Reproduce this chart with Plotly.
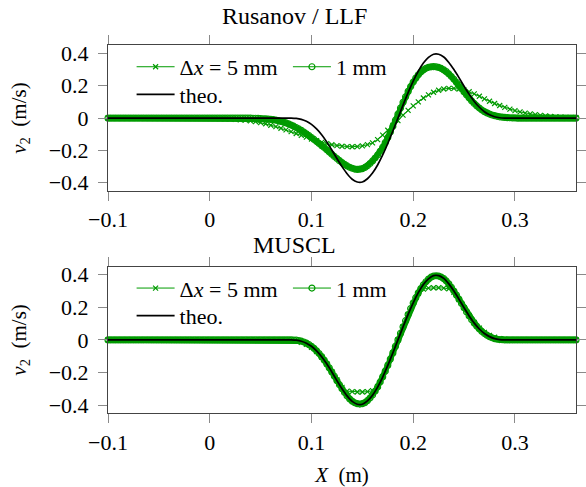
import numpy as np
import plotly.graph_objects as go

# ---------------- data ----------------
x_range = [-0.1, 0.36]
y_range = [-0.45, 0.45]
x_tick_vals = [-0.1, 0.0, 0.1, 0.2, 0.3]
x_tick_text = ["\u22120.1", "0", "0.1", "0.2", "0.3"]
y_tick_vals = [-0.4, -0.2, 0.0, 0.2, 0.4]
y_tick_text = ["\u22120.4", "\u22120.2", "0", "0.2", "0.4"]

# sampling grids (5 mm and fine grid for the "1 mm" runs)
x_coarse = np.round(np.arange(-0.1, 0.36 + 1e-9, 0.005), 4)
x_fine = np.round(np.arange(-0.1, 0.36 + 1e-9, 0.0025), 4)

# theoretical profile, 5 mm grid, non-zero part starting at x = 0.08
theo_start = 0.08
theo_vals = [0.0, -0.002, -0.008, -0.020, -0.039, -0.067, -0.103, -0.147, -0.197, -0.250,
             -0.300, -0.344, -0.378, -0.395, -0.395, -0.375, -0.340, -0.290, -0.228, -0.157,
             -0.080, 0.0, 0.080, 0.157, 0.228, 0.290, 0.340, 0.375, 0.395, 0.395,
             0.378, 0.344, 0.300, 0.250, 0.197, 0.147, 0.103, 0.067, 0.039, 0.020,
             0.008, 0.002, 0.0]

# Rusanov / LLF, dx = 5 mm, starting at x = 0.0
rus5_start = 0.0
rus5_vals = [-0.001, -0.002, -0.003, -0.004, -0.005, -0.007, -0.010, -0.013, -0.017, -0.022,
             -0.028, -0.035, -0.044, -0.053, -0.063, -0.073, -0.084, -0.095, -0.107, -0.118,
             -0.129, -0.140, -0.150, -0.158, -0.165, -0.170, -0.174, -0.176, -0.177, -0.176,
             -0.172, -0.164, -0.153, -0.133, -0.105, -0.075, -0.045, -0.016, 0.018, 0.048,
             0.076, 0.100, 0.124, 0.144, 0.160, 0.172, 0.180, 0.184, 0.184, 0.180,
             0.173, 0.163, 0.150, 0.135, 0.119, 0.104, 0.090, 0.078, 0.066, 0.055,
             0.046, 0.038, 0.031, 0.026, 0.021, 0.017, 0.013, 0.010, 0.008, 0.006,
             0.004, 0.003, 0.002]

# Rusanov / LLF, dx = 1 mm, fine grid starting at x = 0.04
rus1_start = 0.04
rus1_vals = [0.000, -0.001, -0.001, -0.002, -0.003, -0.004, -0.005, -0.006,
             -0.008, -0.010, -0.013, -0.016, -0.020, -0.025, -0.030, -0.036,
             -0.043, -0.050, -0.058, -0.067, -0.076, -0.086, -0.097, -0.108,
             -0.120, -0.132, -0.145, -0.157, -0.170, -0.182, -0.196, -0.210,
             -0.224, -0.237, -0.250, -0.263, -0.275, -0.286, -0.296, -0.304,
             -0.310, -0.315, -0.317, -0.316, -0.313, -0.305, -0.295, -0.281,
             -0.265, -0.247, -0.228, -0.205, -0.180, -0.151, -0.120, -0.086,
             -0.050, -0.013, 0.025, 0.062, 0.098, 0.132, 0.165, 0.195,
             0.223, 0.247, 0.268, 0.285, 0.298, 0.308, 0.314, 0.317,
             0.318, 0.317, 0.313, 0.307, 0.298, 0.287, 0.273, 0.257,
             0.240, 0.221, 0.202, 0.182, 0.162, 0.143, 0.124, 0.106,
             0.090, 0.075, 0.062, 0.050, 0.040, 0.032, 0.025, 0.019,
             0.015, 0.011, 0.008, 0.006, 0.004, 0.003, 0.002, 0.001,
             0.001, 0.000]

# MUSCL, dx = 5 mm, starting at x = 0.07
mus5_start = 0.07
mus5_vals = [0.000, -0.001, -0.004, -0.008, -0.015, -0.027, -0.045, -0.071, -0.106, -0.148,
             -0.196, -0.246, -0.292, -0.315, -0.318, -0.320, -0.320, -0.318, -0.312, -0.286,
             -0.226, -0.156, -0.080, 0.000, 0.080, 0.156, 0.226, 0.285, 0.312, 0.318,
             0.320, 0.320, 0.318, 0.314, 0.292, 0.248, 0.198, 0.150, 0.107, 0.072,
             0.046, 0.028, 0.016, 0.008, 0.004, 0.002, 0.001]

# MUSCL, dx = 1 mm, fine grid starting at x = 0.08
mus1_start = 0.08
mus1_vals = [0.000, -0.001, -0.002, -0.004, -0.008, -0.013, -0.020, -0.029,
             -0.039, -0.052, -0.067, -0.084, -0.103, -0.124, -0.147, -0.172,
             -0.197, -0.223, -0.250, -0.275, -0.300, -0.323, -0.344, -0.362,
             -0.376, -0.386, -0.392, -0.394, -0.392, -0.385, -0.373, -0.357,
             -0.338, -0.315, -0.289, -0.259, -0.227, -0.192, -0.156, -0.118,
             -0.080, -0.040, 0.000, 0.040, 0.080, 0.118, 0.156, 0.192,
             0.227, 0.259, 0.289, 0.315, 0.338, 0.357, 0.373, 0.385,
             0.392, 0.394, 0.392, 0.386, 0.376, 0.362, 0.344, 0.323,
             0.300, 0.275, 0.250, 0.223, 0.197, 0.172, 0.147, 0.124,
             0.103, 0.084, 0.067, 0.052, 0.039, 0.029, 0.020, 0.013,
             0.008, 0.004, 0.002, 0.001, 0.000]

legend_labels = ["\u0394<i>x</i> = 5 mm", "1 mm", "theo."]
panel_titles = ["Rusanov / LLF", "MUSCL"]


def on_grid(grid, start, vals):
    """Place a block of read values on the sampling grid (zero elsewhere)."""
    y = np.zeros(len(grid))
    step = grid[1] - grid[0]
    i0 = int(round((start - grid[0]) / step))
    n = min(len(vals), len(grid) - i0)
    y[i0:i0 + n] = vals[:n]
    return y


# ---------------- styling ----------------
GREEN = "rgb(0,155,0)"
FONT = "Liberation Serif, Times New Roman, serif"
FS = 22
W, H = 586, 487
L, R = 108, 2
pw = W - L - R

fig = go.Figure()

# legend rows (pixel centres) and columns (pixel x of item origin)
col1 = (132 - L) / pw
col2 = (291 - L) / pw
panels = [
    dict(x="x", y="y", rows=(64, 92), legs=("legend", "legend2", "legend3"),
         c5=on_grid(x_coarse, rus5_start, rus5_vals),
         c1=on_grid(x_fine, rus1_start, rus1_vals)),
    dict(x="x2", y="y2", rows=(289, 317), legs=("legend4", "legend5", "legend6"),
         c5=on_grid(x_coarse, mus5_start, mus5_vals),
         c1=on_grid(x_fine, mus1_start, mus1_vals)),
]
theo_y = on_grid(x_coarse, theo_start, theo_vals)

for p in panels:
    l5, l1, lt = p["legs"]
    fig.add_trace(go.Scatter(
        x=x_coarse, y=p["c5"], mode="lines+markers", name=legend_labels[0],
        xaxis=p["x"], yaxis=p["y"], legend=l5, cliponaxis=False,
        line=dict(color=GREEN, width=1),
        marker=dict(symbol="x-thin", size=5, line=dict(color=GREEN, width=1.2), color=GREEN)))
    # dense 1 mm markers merge into a solid band: band body
    fig.add_trace(go.Scatter(
        x=x_fine, y=p["c1"], mode="lines", showlegend=False, hoverinfo="skip",
        xaxis=p["x"], yaxis=p["y"], cliponaxis=False,
        line=dict(color=GREEN, width=5.5)))
    fig.add_trace(go.Scatter(
        x=x_fine, y=p["c1"], mode="lines+markers", name=legend_labels[1],
        xaxis=p["x"], yaxis=p["y"], legend=l1, cliponaxis=False,
        line=dict(color=GREEN, width=1),
        marker=dict(symbol="circle-open", size=6, line=dict(color=GREEN, width=1.2), color=GREEN)))
    fig.add_trace(go.Scatter(
        x=x_coarse, y=theo_y, mode="lines", name=legend_labels[2],
        xaxis=p["x"], yaxis=p["y"], legend=lt, cliponaxis=False,
        line=dict(color="black", width=1.7, shape="spline", smoothing=0.6)))

# plot-area positions in pixels (top, bottom of each frame)
frames = [(42, 190), (267, 416)]
dom = [[1 - b / H, 1 - t / H] for (t, b) in frames]

axis_common = dict(
    showgrid=False, zeroline=False, showline=True, linecolor="#444", linewidth=1,
    mirror="allticks", ticks="outside", ticklen=9, tickwidth=1, tickcolor="#8a8a8a",
    tickfont=dict(family=FONT, size=FS, color="black"),
)
ytitle = dict(text="<i>v</i><sub>2</sub>  (m/s)", standoff=16, font=dict(family=FONT, size=21))

fig.update_layout(
    width=W, height=H,
    margin=dict(l=L, r=R, t=0, b=0),
    paper_bgcolor="white", plot_bgcolor="white",
    font=dict(family=FONT, size=FS, color="black"),
    xaxis=dict(domain=[0, 1], anchor="y", range=x_range, tickvals=x_tick_vals,
               ticktext=x_tick_text, **axis_common),
    yaxis=dict(domain=dom[0], anchor="x", range=y_range, tickvals=y_tick_vals,
               ticktext=y_tick_text, ticklabelstandoff=5, title=ytitle, **axis_common),
    xaxis2=dict(domain=[0, 1], anchor="y2", range=x_range, tickvals=x_tick_vals,
                ticktext=x_tick_text,
                title=dict(text="<i>X</i>  (m)", standoff=14, font=dict(family=FONT, size=21)),
                **axis_common),
    yaxis2=dict(domain=dom[1], anchor="x2", range=y_range, tickvals=y_tick_vals,
                ticktext=y_tick_text, ticklabelstandoff=5, title=ytitle, **axis_common),
    showlegend=True,
)

leg_common = dict(orientation="v", xanchor="left", yanchor="middle", bgcolor="rgba(0,0,0,0)",
                  borderwidth=0, itemwidth=38, font=dict(family=FONT, size=FS))
for p in panels:
    l5, l1, lt = p["legs"]
    r1, r2 = p["rows"]
    fig.update_layout({
        l5: dict(x=col1, y=1 - r1 / H, **leg_common),
        l1: dict(x=col2, y=1 - r1 / H, **leg_common),
        lt: dict(x=col1, y=1 - r2 / H, **leg_common),
    })

title_x = (297.5 - L) / pw
for title, yc in zip(panel_titles, [12, 245]):
    fig.add_annotation(text=title, xref="paper", yref="paper", x=title_x, y=1 - yc / H,
                       xanchor="center", yanchor="middle", showarrow=False,
                       font=dict(family=FONT, size=24, color="black"))

fig.write_html("out.html")
